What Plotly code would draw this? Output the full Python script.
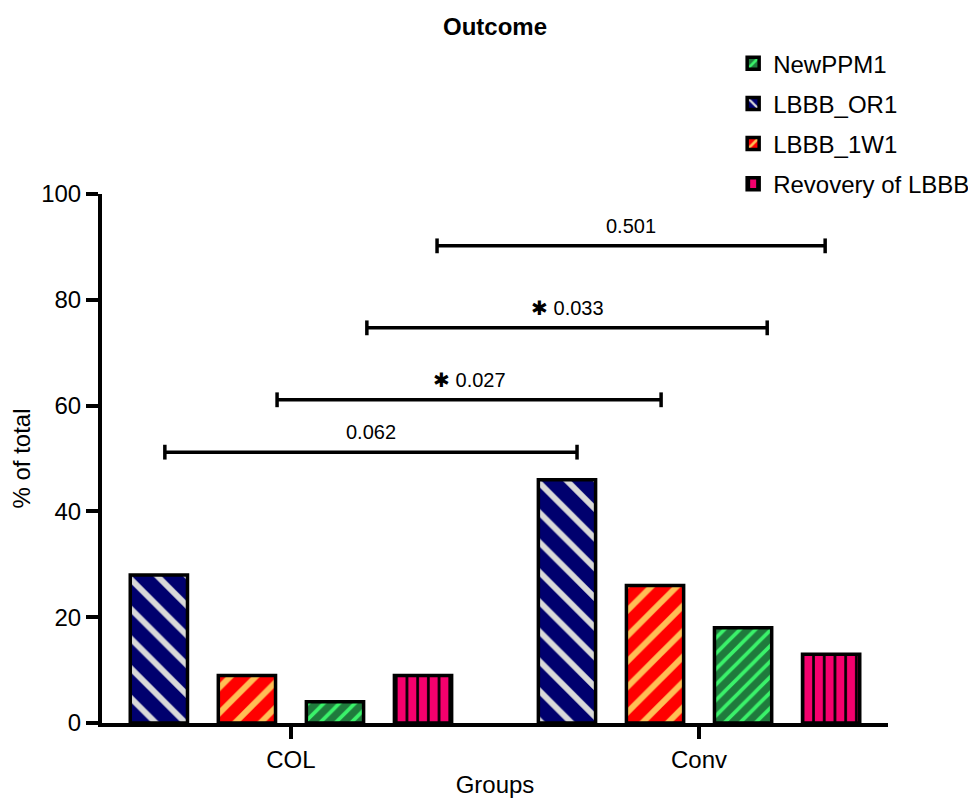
import plotly.graph_objects as go

# ---------------- data ----------------
groups = ["COL", "Conv"]
lbbb_or1 = [28, 46]
lbbb_1w1 = [9, 26]
new_ppm1 = [4, 18]
recovery_lbbb = [9, 13]
y_tick_values = [0, 20, 40, 60, 80, 100]

# significance brackets (p-values, height in %, ends in category units)
p_labels = ["0.062", "✱ 0.027", "✱ 0.033", "0.501"]
bracket_heights = [51.2, 61.1, 74.7, 90.2]
bracket_from = [-0.309, -0.034, 0.186, 0.358]
bracket_to = [0.701, 0.907, 1.167, 1.309]

# ---------------- styles ----------------
FONT = "Liberation Sans, Arial, sans-serif"
W, H = 960, 790  # page body adds an 8px margin around the figure
series = [
    # name, values, bg, fg, shape, size, solidity, legendrank
    ("LBBB_OR1", lbbb_or1, "#00006e", "#d9d9d9", "\\", 21, 0.28, 2),
    ("LBBB_1W1", lbbb_1w1, "#ff0000", "#ffbf55", "/", 18, 0.33, 3),
    ("NewPPM1", new_ppm1, "#1f7a3c", "#3af26a", "/", 11, 0.33, 1),
    ("Revovery of LBBB", recovery_lbbb, "#f5006d", "#000000", "|", 10.7, 0.25, 4),
]

fig = go.Figure()
for name, vals, bg, fg, shape, size, sol, rank in series:
    fig.add_trace(go.Bar(
        x=groups, y=vals, name=name, legendrank=rank, legendgroup=name,
        marker=dict(
            color=bg,
            line=dict(color="black", width=3.5),
            pattern=dict(shape=shape, fgcolor=fg, bgcolor=bg, size=size,
                         solidity=sol, fillmode="replace"),
        ),
    ))

shapes = []
annotations = []
cap = 1.4
for lab, h, x0, x1 in zip(p_labels, bracket_heights, bracket_from, bracket_to):
    ln = dict(color="black", width=3.5)
    shapes.append(dict(type="line", xref="x", yref="y", x0=x0, x1=x1, y0=h, y1=h, line=ln))
    shapes.append(dict(type="line", xref="x", yref="y", x0=x0, x1=x0, y0=h - cap, y1=h + cap, line=ln))
    shapes.append(dict(type="line", xref="x", yref="y", x0=x1, x1=x1, y0=h - cap, y1=h + cap, line=ln))
    annotations.append(dict(x=(x0 + x1) / 2, y=h, xref="x", yref="y", text=lab,
                            showarrow=False, yanchor="bottom", yshift=7,
                            font=dict(family=FONT, size=20, color="black")))

fig.update_layout(
    width=W, height=H,
    margin=dict(l=94, r=80, t=186, b=75, autoexpand=False),
    paper_bgcolor="white", plot_bgcolor="white",
    barmode="group", bargap=0.137, bargroupgap=0.35,
    font=dict(family=FONT, color="black"),
    title=dict(text="<b>Outcome</b>", x=0.5, xref="paper", xanchor="center",
               y=1 - 19 / H, yref="container", yanchor="middle",
               font=dict(family=FONT, size=24, color="black")),
    legend=dict(x=0.803, y=1.289, xanchor="left", yanchor="top",
                font=dict(family=FONT, size=24, color="black"),
                tracegroupgap=6, bgcolor="rgba(0,0,0,0)"),
    shapes=shapes, annotations=annotations,
    xaxis=dict(range=[-0.463, 1.463], showline=True, linecolor="black", linewidth=4,
               ticks="outside", ticklen=12, tickwidth=4, tickcolor="black",
               tickfont=dict(family=FONT, size=24), showgrid=False, zeroline=False,
               title=dict(text="Groups", font=dict(family=FONT, size=24), standoff=19)),
    yaxis=dict(range=[0, 100], tickvals=y_tick_values, showline=True, linecolor="black",
               linewidth=4, ticks="outside", ticklen=12, tickwidth=4, tickcolor="black",
               tickfont=dict(family=FONT, size=24), showgrid=False, zeroline=False,
               title=dict(text="% of total", font=dict(family=FONT, size=24), standoff=10)),
)

fig.write_html("out.html")
